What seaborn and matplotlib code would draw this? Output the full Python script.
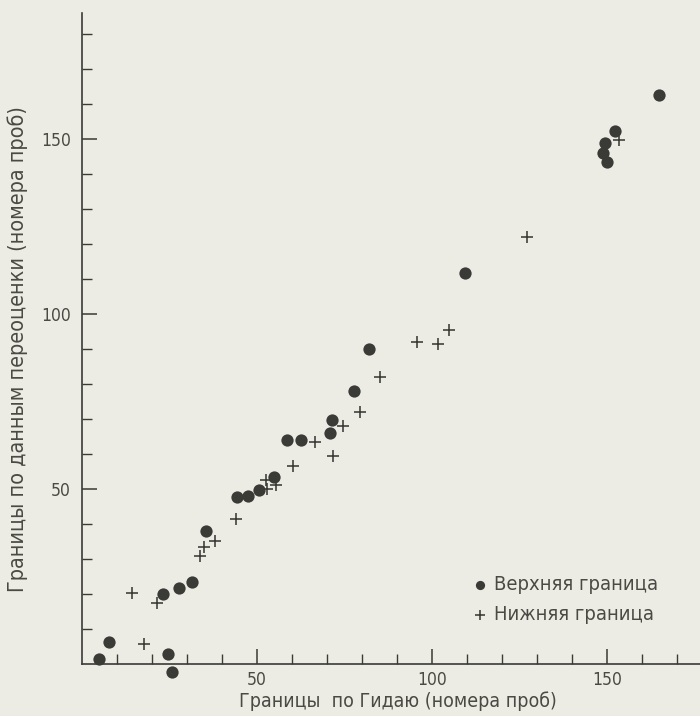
import numpy as np
import pandas as pd
import seaborn as sns
import matplotlib
matplotlib.use("Agg")
import matplotlib.pyplot as plt
from matplotlib.ticker import FixedLocator

# ---- data ----
upper_x = [4.9, 7.7, 23.1, 24.6, 25.7, 27.7, 31.4, 35.4, 44.4, 47.4, 50.6, 54.9,
           58.5, 62.6, 70.9, 71.4, 77.7, 82.1, 109.4, 148.9, 149.4, 150.1, 152.3, 164.9]
upper_y = [1.3, 6.2, 20.0, 3.0, -2.4, 21.8, 23.3, 38.0, 47.6, 47.9, 49.6, 53.3,
           64.0, 64.0, 65.9, 69.6, 78.1, 89.9, 111.6, 146.1, 148.9, 143.5, 152.4, 162.6]

lower_x = [14.2, 17.8, 21.3, 33.8, 34.9, 38.1, 43.9, 52.6, 52.9, 55.4, 60.3, 66.6,
           71.8, 74.6, 79.4, 85.1, 95.6, 101.8, 105.0, 127.2, 153.4]
lower_y = [20.2, 5.7, 17.5, 30.9, 33.5, 35.2, 41.5, 52.6, 49.9, 51.1, 56.5, 63.5,
           59.3, 67.9, 72.0, 82.1, 91.9, 91.4, 95.4, 122.1, 149.7]

upper_label = "Верхняя граница"
lower_label = "Нижняя граница"
x_label = "Границы  по Гидаю (номера проб)"
y_label = "Границы по данным переоценки (номера проб)"
major_ticks = [50, 100, 150]
x_minor_ticks = [10, 20, 30, 40, 60, 70, 80, 90, 110, 120, 130, 140, 160, 170]
y_minor_ticks = [10, 20, 30, 40, 60, 70, 80, 90, 110, 120, 130, 140, 160, 170, 180]

# ---- style ----
sns.set_theme(style="ticks")
paper = "#EDECE4"
ink = "#3A3A36"
text_ink = "#4A4A44"
plt.rcParams['font.family'] = ['DejaVu Sans']
plt.rcParams['font.stretch'] = 'condensed'

fig = plt.figure(figsize=(7.0, 7.16), dpi=100, facecolor=paper)
ax = fig.add_axes([82/700, 52/716, 1 - 82/700, (664-13)/716])
ax.set_facecolor(paper)

sns.scatterplot(x=upper_x, y=upper_y, ax=ax, marker="o", s=78, color=ink,
                edgecolor=ink, linewidth=0, label=upper_label, clip_on=False, zorder=3)
sns.scatterplot(x=lower_x, y=lower_y, ax=ax, marker="+", s=80, color=ink,
                linewidth=1.15, label=lower_label, clip_on=False, zorder=3)

ax.set_xlim(0, (700-82)/3.5)
ax.set_ylim(0, (664-13)/3.5)

sns.despine(ax=ax)
for sp in ("left", "bottom"):
    ax.spines[sp].set_color(ink)
    ax.spines[sp].set_linewidth(1.2)

ax.xaxis.set_major_locator(FixedLocator(major_ticks))
ax.yaxis.set_major_locator(FixedLocator(major_ticks))
ax.xaxis.set_minor_locator(FixedLocator(x_minor_ticks))
ax.yaxis.set_minor_locator(FixedLocator(y_minor_ticks))
ax.tick_params(which="major", direction="in", length=11, width=1.1, color=ink,
               labelsize=12.5, labelcolor=text_ink, pad=8)
ax.tick_params(which="minor", direction="in", length=7, width=1.0, color=ink)
ax.tick_params(axis="x", which="major", pad=5)

ax.set_xlabel(x_label, fontsize=14, color=text_ink, va="center")
ax.set_ylabel(y_label, fontsize=15.5, color=text_ink)
ax.xaxis.set_label_coords((398-82)/618, -(701-664)/651)
ax.yaxis.set_label_coords(-(82-28)/618, (664-349)/651)

leg = ax.legend(loc="upper left", bbox_to_anchor=((462-82)/618, (664-567)/651),
                frameon=False, fontsize=14.5, handletextpad=0.2, handlelength=1.0,
                labelspacing=0.55, markerscale=0.75, borderaxespad=0)
for t in leg.get_texts():
    t.set_color(text_ink)

fig.savefig("out.png", dpi=100, facecolor=paper)
